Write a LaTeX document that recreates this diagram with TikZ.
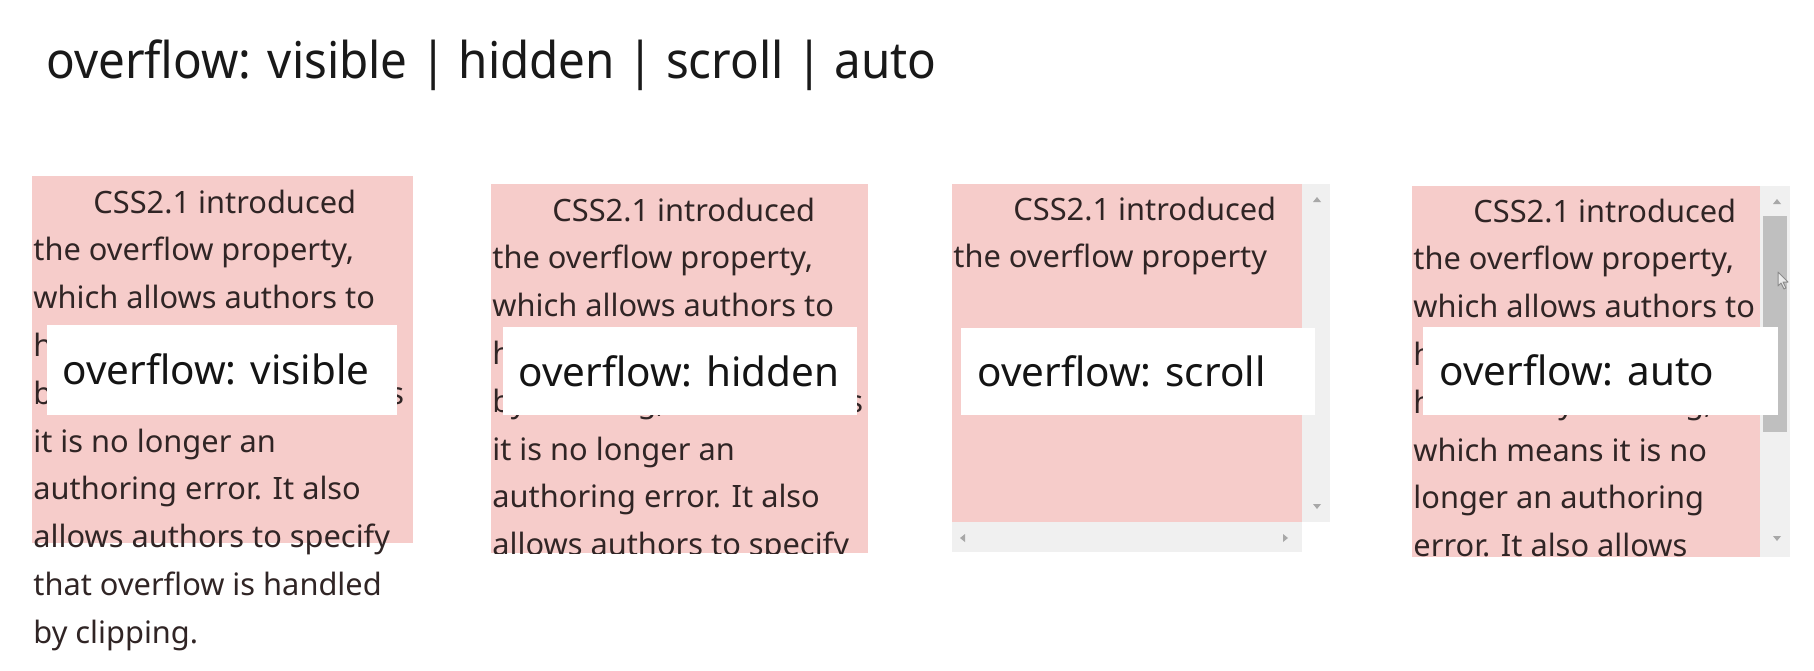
\documentclass[tikz,border=0pt]{standalone}
\usepackage{fontspec}
\setmainfont{Noto Sans}
\newfontfamily\condfont{Noto Sans}[FakeStretch=0.94]
\definecolor{pinkbg}{HTML}{F6CCCA}
\definecolor{bodytext}{HTML}{302525}
\definecolor{track}{HTML}{F0F0F0}
\definecolor{thumb}{HTML}{BFBFBF}
\definecolor{arrowgray}{HTML}{A8A8A8}
\tikzset{
  titletext/.style={anchor=base west, inner sep=0, font=\condfont\fontsize{25.3pt}{30pt}\selectfont, text=black!90},
  bodyline/.style={anchor=base west, inner sep=0, font=\fontsize{15.4pt}{18pt}\selectfont, text=bodytext},
  lbltext/.style={anchor=base west, inner sep=0, font=\fontsize{20.2pt}{24pt}\selectfont, text=black!92},
  lblbox/.style={fill=white},
  panelbg/.style={fill=pinkbg},
  trackbg/.style={fill=track},
  arr/.style={fill=arrowgray}
}
\begin{document}
\begin{tikzpicture}[x=0.5pt,y=-0.5pt]
\useasboundingbox[fill=white] (0,0) rectangle (1814,670);
\node[titletext] (title) at (46,78) {overflow: visible | hidden | scroll | auto};

% ---------- panel 1: visible ----------
\path[panelbg] (32,176) rectangle (413,543);
\node[bodyline] (v1) at (93,213) {CSS2.1 introduced};
\node[bodyline] (v2) at (33,260.8) {the overflow property,};
\node[bodyline] (v3) at (33,308.6) {which allows authors to};
\node[bodyline] (v4) at (33,356.4) {have overflow handled};
\node[bodyline] (v5) at (33,404.2) {by scrolling, which means};
\node[bodyline] (v6) at (33,452) {it is no longer an};
\node[bodyline] (v7) at (33,499.8) {authoring error. It also};
\node[bodyline] (v8) at (33,547.6) {allows authors to specify};
\node[bodyline] (v9) at (33,595.4) {that overflow is handled};
\node[bodyline] (v10) at (33,643.2) {by clipping.};
\path[lblbox] (47,325) rectangle (397,415);
\node[lbltext] (lv) at (62,384) {overflow: visible};

% ---------- panel 2: hidden ----------
\path[panelbg] (491,184) rectangle (868,553);
\begin{scope}
\clip (491,184) rectangle (868,553);
\node[bodyline] (h1) at (552,221) {CSS2.1 introduced};
\node[bodyline] (h2) at (492,268.8) {the overflow property,};
\node[bodyline] (h3) at (492,316.6) {which allows authors to};
\node[bodyline] (h4) at (492,364.4) {have overflow handled};
\node[bodyline] (h5) at (492,412.2) {by scrolling, which means};
\node[bodyline] (h6) at (492,460) {it is no longer an};
\node[bodyline] (h7) at (492,507.8) {authoring error. It also};
\node[bodyline] (h8) at (492,555.6) {allows authors to specify};
\end{scope}
\path[lblbox] (503,327) rectangle (857,415);
\node[lbltext] (lh) at (518,386) {overflow: hidden};

% ---------- panel 3: scroll ----------
\path[panelbg] (952,184) rectangle (1302,522);
\path[trackbg] (1302,184) rectangle (1330,522);
\path[trackbg] (952,522) rectangle (1302,552);
\node[bodyline] (s1) at (1013,220) {CSS2.1 introduced};
\node[bodyline] (s2) at (953,267.8) {the overflow property};
\path[arr] (1313,202) -- (1321,202) -- (1317,197) -- cycle;
\path[arr] (1313,504) -- (1321,504) -- (1317,509) -- cycle;
\path[arr] (965,534) -- (965,542) -- (960,538) -- cycle;
\path[arr] (1283,534) -- (1283,542) -- (1288,538) -- cycle;
\path[lblbox] (961,328) rectangle (1315,415);
\node[lbltext] (ls) at (977,386) {overflow: scroll};

% ---------- panel 4: auto ----------
\path[panelbg] (1412,186) rectangle (1760,557);
\path[trackbg] (1760,186) rectangle (1790,557);
\path[fill=thumb] (1763,216) rectangle (1787,432);
\path[arr] (1773,204) -- (1781,204) -- (1777,199) -- cycle;
\path[arr] (1773,536) -- (1781,536) -- (1777,541) -- cycle;
\begin{scope}
\clip (1412,186) rectangle (1760,557);
\node[bodyline] (a1) at (1473,222) {CSS2.1 introduced};
\node[bodyline] (a2) at (1413,269.8) {the overflow property,};
\node[bodyline] (a3) at (1413,317.6) {which allows authors to};
\node[bodyline] (a4) at (1413,365.4) {have overflow};
\node[bodyline] (a5) at (1413,413.2) {handled by scrolling,};
\node[bodyline] (a6) at (1413,461) {which means it is no};
\node[bodyline] (a7) at (1413,508.8) {longer an authoring};
\node[bodyline] (a8) at (1413,556.6) {error. It also allows};
\end{scope}
\path[lblbox] (1423,327) rectangle (1778,415);
\node[lbltext] (la) at (1439,385) {overflow: auto};
% mouse cursor
\path[fill=white!92!black, draw=black!45, line width=0.5pt, line join=round]
  (1778,272) -- (1778,286) -- (1781,283) -- (1784,289) -- (1786,288) -- (1783,282) -- (1788,282) -- cycle;
\end{tikzpicture}
\end{document}
